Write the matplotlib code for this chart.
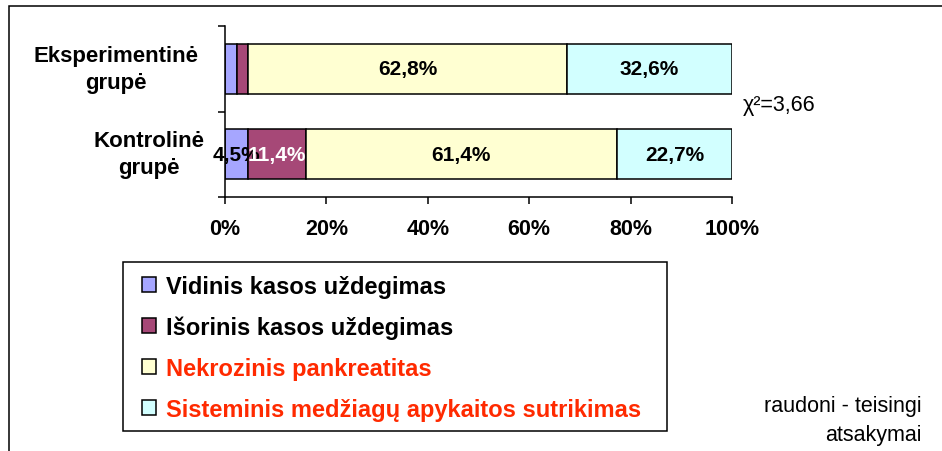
import matplotlib
matplotlib.use("Agg")
import matplotlib.pyplot as plt
from matplotlib.patches import Patch, Rectangle
from matplotlib.transforms import blended_transform_factory
import numpy as np

plt.rcParams["font.family"] = ["Liberation Sans", "DejaVu Sans"]

groups = ["Eksperimentinė\ngrupė", "Kontrolinė\ngrupė"]
series = ["Vidinis kasos uždegimas", "Išorinis kasos uždegimas",
          "Nekrozinis pankreatitas", "Sisteminis medžiagų apykaitos sutrikimas"]
# percentages per group, one list per series
vidinis = [2.3, 4.5]
isorinis = [2.3, 11.4]
nekrozinis = [62.8, 61.4]
sisteminis = [32.6, 22.7]
values = [vidinis, isorinis, nekrozinis, sisteminis]

colors = ["#A6A6FF", "#A64877", "#FFFFD2", "#D2FFFF"]
label_colors = ["black", "white", "black", "black"]
legend_text_colors = ["black", "black", "#FF2A00", "#FF2A00"]
chi_text = "χ²=3,66"
note_text = "raudoni - teisingi\natsakymai"

W, H = 942, 452
fig = plt.figure(figsize=(W / 100, H / 100), dpi=100)
ax = fig.add_axes([225 / W, 1 - 198 / H, 507 / W, 171 / H])

y = np.arange(len(groups))
left = np.zeros(len(groups))
for vals, col, lc in zip(values, colors, label_colors):
    vals = np.array(vals)
    ax.barh(y, vals, left=left, height=0.59, color=col, edgecolor="black", linewidth=1.1)
    for yi, (l, v) in enumerate(zip(left, vals)):
        if v >= 4:
            ax.text(l + v / 2, yi, ("%.1f%%" % v).replace(".", ","), ha="center", va="center",
                    fontsize=15, fontweight="bold", color=lc)
    left = left + vals

ax.set_xlim(0, 100)
ax.set_ylim(1.5, -0.5)
ax.set_xticks(np.arange(0, 101, 20))
ax.set_xticklabels(["%d%%" % t for t in range(0, 101, 20)], fontsize=15.5, fontweight="bold")
ax.tick_params(axis="x", direction="out", length=5, width=1.1, pad=10)
ax.set_yticks([])
ax.set_yticks([-0.5, 0.5, 1.5], minor=True)
ax.tick_params(axis="y", which="minor", direction="out", length=5, width=1.1)
for s in ["top", "right"]:
    ax.spines[s].set_visible(False)
for s in ["left", "bottom"]:
    ax.spines[s].set_linewidth(1.1)

trans = blended_transform_factory(fig.transFigure, ax.transData)
label_x = [116, 149]
for yi, (g, lx) in enumerate(zip(groups, label_x)):
    ax.text(lx / W, yi, g, transform=trans, ha="center", va="center", multialignment="center",
            fontsize=16, fontweight="bold", linespacing=1.4)

fig.text(743 / W, 1 - 106 / H, chi_text, fontsize=15.5, va="center", ha="left")
fig.text(922 / W, 1 - 421 / H, note_text, fontsize=15.5, va="center", ha="right", linespacing=1.45)

handles = [Patch(facecolor=c, edgecolor="black", linewidth=1.1) for c in colors]
leg = fig.legend(handles, series, loc="upper left", bbox_to_anchor=(142 / W, 1 - 276 / H),
                 frameon=False, prop={"size": 17, "weight": "bold"},
                 handlelength=0.6, handleheight=0.6, handletextpad=0.42,
                 labelspacing=0.75, borderpad=0, borderaxespad=0)
for t, c in zip(leg.get_texts(), legend_text_colors):
    t.set_color(c)

# legend box
fig.add_artist(Rectangle((123 / W, 1 - 432 / H), 544 / W, 169 / H, transform=fig.transFigure,
                         fill=False, edgecolor="black", linewidth=1.1))
# outer chart frame
fig.add_artist(Rectangle((9 / W, -0.05), 1.0, 1 - 7 / H + 0.05, transform=fig.transFigure,
                         fill=False, edgecolor="black", linewidth=1.1))

fig.savefig("out.png", dpi=100)
